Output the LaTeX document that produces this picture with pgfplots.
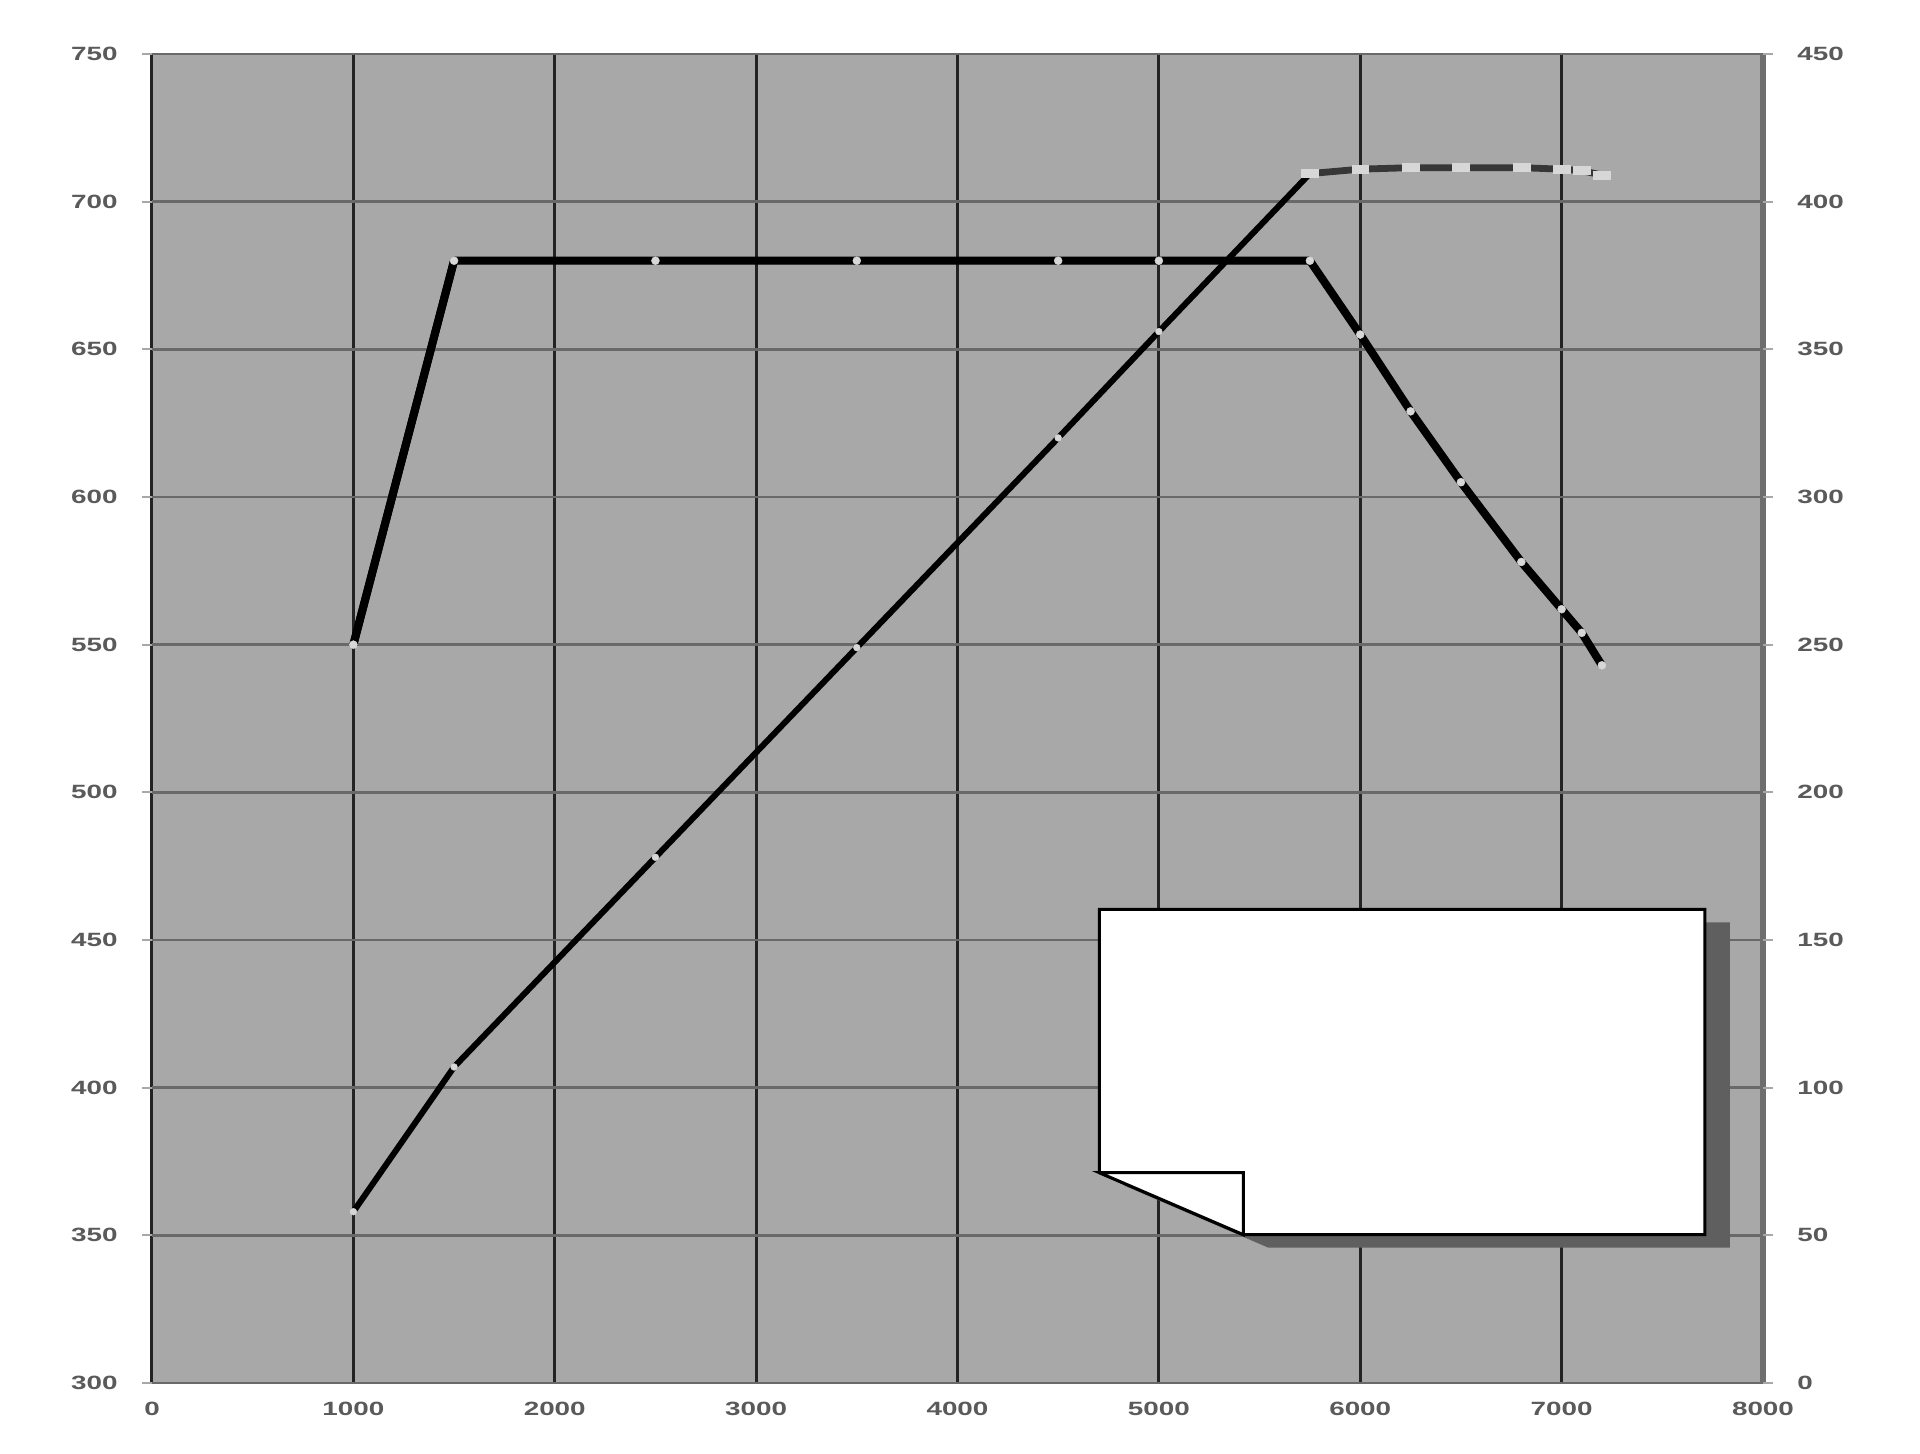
\documentclass[border=0pt]{standalone}
\usepackage{pgfplots}
\pgfplotsset{compat=1.18}
\usepackage{pgfplotstable}
\usepackage{fontspec}
\newfontfamily\lblfont{Liberation Sans}[FakeStretch=1.45]
\definecolor{bg}{RGB}{168,168,168}
\definecolor{hgrid}{RGB}{105,105,105}
\definecolor{vgrid}{RGB}{35,35,35}
\definecolor{lbl}{RGB}{90,90,90}
\definecolor{mk}{RGB}{215,215,215}
\definecolor{flat}{RGB}{52,52,52}
\definecolor{topdash}{RGB}{55,55,55}
\definecolor{shadowc}{RGB}{95,95,95}
\definecolor{edge}{RGB}{110,110,110}

% torque (left axis)
\pgfplotstableread{
rpm torque
1000 550
1500 680
2500 680
3500 680
4500 680
5000 680
5750 680
6000 655
6250 629
6500 605
6800 578
7000 562
7100 554
7200 543
}\torque
% power (right axis), rising part
\pgfplotstableread{
rpm power
1000 58
1500 107
2500 178
3500 249
4500 320
5000 356
5750 409.5
}\powerA
% power, top part
\pgfplotstableread{
rpm power
5750 409.5
6000 411
6250 411.5
6500 411.5
6800 411.5
7000 411
7100 410.5
7200 409
}\powerB

\pgfplotsset{
  lblstyle/.style={font={\lblfont\bfseries\fontsize{4.8pt}{5pt}\selectfont}, text=lbl},
}

\begin{document}
\begin{tikzpicture}
\path[use as bounding box] (0,0) rectangle (480pt,363.5pt);
\begin{axis}[
  at={(38pt,17.75pt)}, anchor=south west,
  width=402.75pt, height=332.25pt, scale only axis,
  xmin=0, xmax=8000, ymin=300, ymax=750,
  xtick={0,1000,...,8000}, ytick={300,350,...,750},
  axis background/.style={fill=bg},
  axis line style={draw=none},
  xmajorgrids, ymajorgrids,
  x grid style={vgrid, line width=0.75pt},
  y grid style={hgrid, line width=0.7pt},
  ytick pos=left, xtick pos=bottom,
  tick align=outside,
  major tick length=2.4pt,
  ytick style={edge!60, line width=0.5pt},
  xtick style={draw=none},
  ticklabel style={lblstyle},
  xticklabel style={inner sep=0pt, anchor=north, yshift=-2.25pt},
  yticklabel style={inner sep=0pt, anchor=east, xshift=-6pt},
  /pgf/number format/assume math mode=true,
  /pgf/number format/1000 sep={},
  clip=false,
]
% torque lines
\addplot[black, line width=2pt, line join=round] coordinates {(1000,550) (1500,680)};
\addplot[flat, line width=1.7pt, line join=round] table[x=rpm,y=torque, skip first n=1] {\torque};
\addplot[black, line width=2pt, line join=round] table[x=rpm,y=torque, skip first n=6] {\torque};
\addplot[mk, only marks, mark=*, mark size=1.0pt, mark options={fill=mk, draw=mk, line width=0.1pt}] table[x=rpm,y=torque] {\torque};
% right border
\draw[edge, line width=1.5pt] (rel axis cs:1,0) -- (rel axis cs:1,1);
% note box with shadow and folded corner
\fill[shadowc, xshift=6.25pt, yshift=-3.25pt] (axis cs:4705,460.4) -- (axis cs:7712,460.4) -- (axis cs:7712,350.2) -- (axis cs:5420,350.2) -- (axis cs:4705,371.2) -- cycle;
\filldraw[fill=white, draw=black, line width=0.75pt, line join=miter] (axis cs:4705,460.4) -- (axis cs:7712,460.4) -- (axis cs:7712,350.2) -- (axis cs:5420,350.2) -- (axis cs:4705,371.2) -- cycle;
\filldraw[fill=white, draw=black, line width=0.75pt] (axis cs:4705,371.2) -- (axis cs:5420,371.2) -- (axis cs:5420,350.2) -- cycle;
\end{axis}
\begin{axis}[
  at={(38pt,17.75pt)}, anchor=south west,
  width=402.75pt, height=332.25pt, scale only axis,
  xmin=0, xmax=8000, ymin=0, ymax=450,
  hide x axis,
  axis y line*=right,
  axis line style={draw=none},
  ytick={0,50,...,450},
  tick align=outside,
  major tick length=2.4pt,
  ytick style={edge!60, line width=0.5pt},
  ticklabel style={lblstyle},
  yticklabel style={inner sep=0pt, anchor=west, xshift=6pt},
  /pgf/number format/assume math mode=true,
  /pgf/number format/1000 sep={},
  clip=false,
]
\addplot[black, line width=1.5pt, line join=round] table[x=rpm,y=power] {\powerA};
\addplot[topdash, line width=1.7pt, line join=round] table[x=rpm,y=power] {\powerB};
\addplot[mk, only marks, mark=*, mark size=0.85pt, mark options={fill=mk, draw=mk, line width=0.1pt}] table[x=rpm,y=power] {\powerA};
\addplot[mk, only marks, mark=square*, mark size=1.0pt, mark options={fill=mk, draw=mk, line width=0.1pt, xscale=2.1}] table[x=rpm,y=power, skip first n=1] {\powerB};
\end{axis}
\end{tikzpicture}
\end{document}
